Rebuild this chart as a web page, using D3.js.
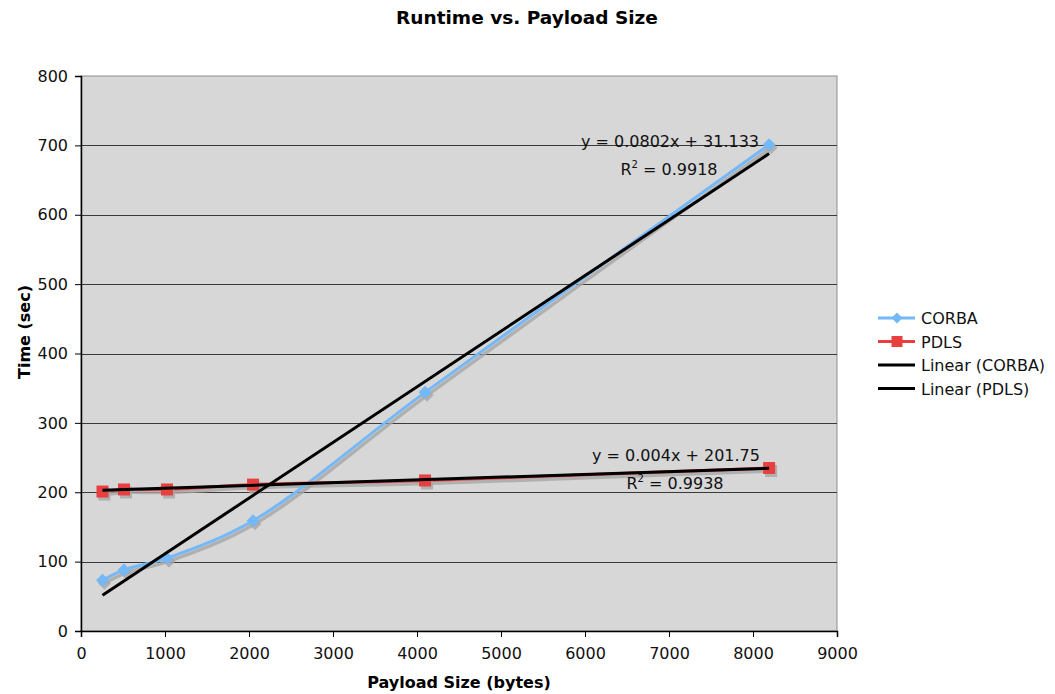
<!DOCTYPE html>
<html>
<head>
<meta charset="utf-8">
<script src="https://cdn.jsdelivr.net/npm/d3@7"></script>
<style>
  html, body { margin: 0; padding: 0; background: #fff; }
  svg { display: block; font-family: "DejaVu Sans", Verdana, sans-serif; }
</style>
</head>
<body>
<svg id="chart" width="1055" height="694"></svg>
<script>
// Payload sizes (bytes) and measured runtimes (sec)
const payloadSizes = [256, 512, 1024, 2048, 4096, 8192];
const corbaTimes = [73, 88, 105, 159, 344, 701];
const pdlsTimes = [201, 204, 204, 211, 217, 235];

// Linear trendline fits
const trendSlopes = [0.0802, 0.004];
const trendIntercepts = [31.133, 201.75];
const trendR2 = ["0.9918", "0.9938"];

const xTicks = [0, 1000, 2000, 3000, 4000, 5000, 6000, 7000, 8000, 9000];
const yTicks = [0, 100, 200, 300, 400, 500, 600, 700, 800];

const seriesNames = ["CORBA", "PDLS"];
const seriesColors = ["#74b8f7", "#e8403f"];
const legendLabels = ["CORBA", "PDLS", "Linear (CORBA)", "Linear (PDLS)"];

const svg = d3.select("#chart");
const plot = { left: 81, right: 837, top: 76, bottom: 631 };
const FS = 16;

const x = d3.scaleLinear().domain([0, 9000]).range([plot.left, plot.right]);
const y = d3.scaleLinear().domain([0, 800]).range([plot.bottom, plot.top]);

// plot background
svg.append("rect")
  .attr("x", plot.left).attr("y", plot.top)
  .attr("width", plot.right - plot.left).attr("height", plot.bottom - plot.top)
  .attr("fill", "#d7d7d7")
  .attr("stroke", "#8c8c8c").attr("stroke-width", 1);

// horizontal gridlines
svg.append("g").selectAll("line")
  .data(yTicks.filter(d => d > 0 && d < 800))
  .join("line")
  .attr("x1", plot.left).attr("x2", plot.right)
  .attr("y1", d => Math.round(y(d)) + 0.5).attr("y2", d => Math.round(y(d)) + 0.5)
  .attr("stroke", "#3a3a3a").attr("stroke-width", 1);

// axes
const xAxis = svg.append("g")
  .attr("transform", `translate(0,${plot.bottom})`)
  .call(d3.axisBottom(x).tickValues(xTicks).tickFormat(d3.format("d")).tickSize(6).tickPadding(11));
const yAxis = svg.append("g")
  .attr("transform", `translate(${plot.left},0)`)
  .call(d3.axisLeft(y).tickValues(yTicks).tickFormat(d3.format("d")).tickSize(6).tickPadding(7));
[xAxis, yAxis].forEach(g => {
  g.select(".domain").attr("stroke", "#000").attr("stroke-width", 1.5);
  g.selectAll(".tick line").attr("stroke", "#000");
  g.selectAll("text").attr("font-size", FS).attr("fill", "#111")
    .attr("font-family", "DejaVu Sans, Verdana, sans-serif");
});

const seriesData = [corbaTimes, pdlsTimes].map(vals =>
  payloadSizes.map((p, i) => ({ x: p, y: vals[i] })));

const marks = svg.append("g");
const shadowOff = { dx: 2, dy: 3 };

const smoothLine = d3.line().x(d => x(d.x)).y(d => y(d.y)).curve(d3.curveCatmullRom.alpha(0.5));

// series shadows
seriesData.forEach((data, i) => {
  marks.append("path")
    .datum(data)
    .attr("d", smoothLine)
    .attr("transform", `translate(${shadowOff.dx},${shadowOff.dy})`)
    .attr("fill", "none").attr("stroke", "#a6a6a6").attr("stroke-width", 3.5).attr("opacity", 0.8);
});

// series lines
seriesData.forEach((data, i) => {
  marks.append("path")
    .datum(data)
    .attr("d", smoothLine)
    .attr("fill", "none").attr("stroke", seriesColors[i]).attr("stroke-width", 3);
});

// markers: rotated squares for CORBA, squares for PDLS
const diamondPath = r => `M0,${-r}L${r},0L0,${r}L${-r},0Z`;
const squarePath = r => `M${-r},${-r}H${r}V${r}H${-r}Z`;
seriesData.forEach((data, i) => {
  const shape = i === 0 ? diamondPath(6.5) : squarePath(6);
  const g = marks.append("g");
  g.selectAll("path.shadow").data(data).join("path")
    .attr("class", "shadow")
    .attr("d", shape)
    .attr("transform", d => `translate(${x(d.x) + shadowOff.dx},${y(d.y) + shadowOff.dy})`)
    .attr("fill", "#a6a6a6").attr("opacity", 0.8);
  g.selectAll("path.mark").data(data).join("path")
    .attr("class", "mark")
    .attr("d", shape)
    .attr("transform", d => `translate(${x(d.x)},${y(d.y)})`)
    .attr("fill", seriesColors[i]);
});

// linear trendlines
const xMin = d3.min(payloadSizes), xMax = d3.max(payloadSizes);
trendSlopes.forEach((m, i) => {
  const b = trendIntercepts[i];
  marks.append("line")
    .attr("x1", x(xMin)).attr("y1", y(m * xMin + b))
    .attr("x2", x(xMax)).attr("y2", y(m * xMax + b))
    .attr("stroke", "#000").attr("stroke-width", 3);
});

// trendline equation labels
const eqPos = [
  { x: 670, y: 147, r2x: 669, r2y: 175 },
  { x: 676, y: 461, r2x: 675, r2y: 489 }
];
trendSlopes.forEach((m, i) => {
  const p = eqPos[i];
  svg.append("text")
    .attr("x", p.x).attr("y", p.y).attr("text-anchor", "middle")
    .attr("font-size", FS).attr("fill", "#111")
    .text(`y = ${m}x + ${trendIntercepts[i]}`);
  const t = svg.append("text")
    .attr("x", p.r2x).attr("y", p.r2y).attr("text-anchor", "middle")
    .attr("font-size", FS).attr("fill", "#111");
  t.append("tspan").text("R");
  t.append("tspan").attr("font-size", 10).attr("dy", -7).text("2");
  t.append("tspan").attr("dy", 7).text(` = ${trendR2[i]}`);
});

// title and axis labels
svg.append("text")
  .attr("x", 527).attr("y", 24).attr("text-anchor", "middle")
  .attr("font-size", 18.5).attr("font-weight", "bold").attr("fill", "#000")
  .text("Runtime vs. Payload Size");
svg.append("text")
  .attr("x", 459).attr("y", 688).attr("text-anchor", "middle")
  .attr("font-size", FS).attr("font-weight", "bold").attr("fill", "#000")
  .text("Payload Size (bytes)");
svg.append("text")
  .attr("transform", "translate(30,332) rotate(-90)").attr("text-anchor", "middle")
  .attr("font-size", FS).attr("font-weight", "bold").attr("fill", "#000")
  .text("Time (sec)");

// legend
const legend = svg.append("g").attr("transform", "translate(878,318)");
legendLabels.forEach((label, i) => {
  const gy = i * 23.5;
  const color = i < 2 ? seriesColors[i] : "#000";
  legend.append("line")
    .attr("x1", 0).attr("x2", 37).attr("y1", gy).attr("y2", gy)
    .attr("stroke", color).attr("stroke-width", 3);
  if (i === 0) legend.append("path").attr("d", diamondPath(5.5))
    .attr("transform", `translate(19,${gy})`).attr("fill", color);
  if (i === 1) legend.append("path").attr("d", squarePath(5.5))
    .attr("transform", `translate(19,${gy})`).attr("fill", color);
  legend.append("text")
    .attr("x", 43).attr("y", gy + 6)
    .attr("font-size", FS).attr("fill", "#111")
    .text(label);
});
</script>
</body>
</html>
